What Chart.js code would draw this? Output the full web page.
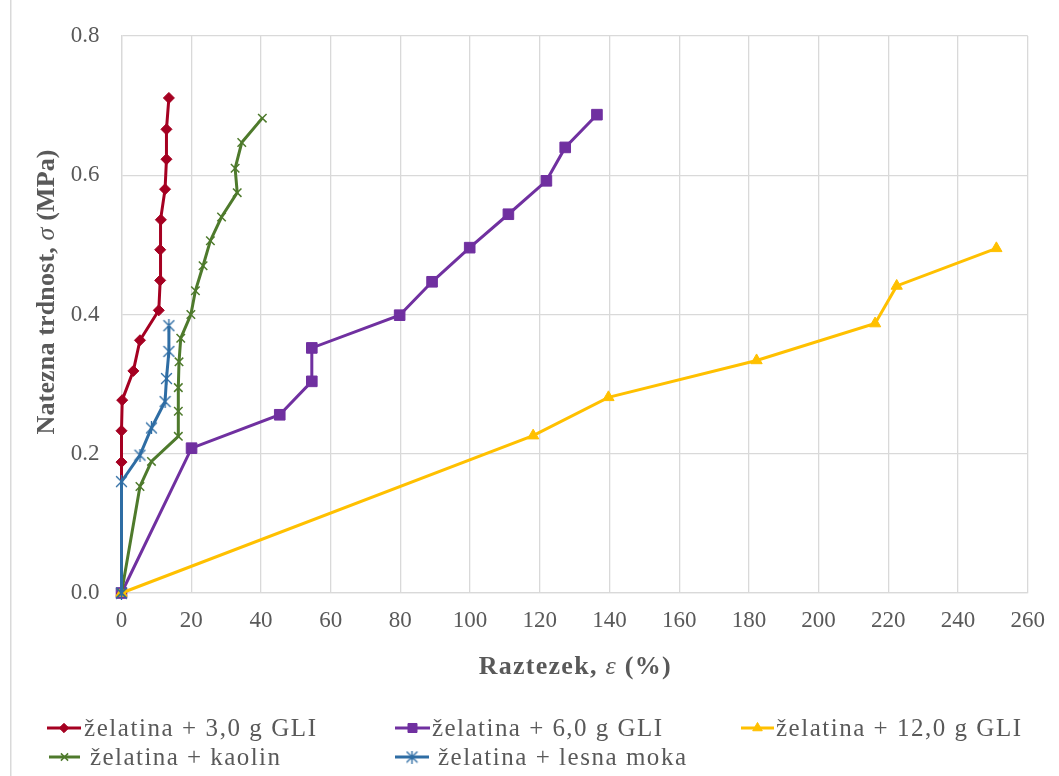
<!DOCTYPE html>
<html><head><meta charset="utf-8">
<script src="https://cdn.jsdelivr.net/npm/chart.js@4.4.1/dist/chart.umd.min.js"></script>
<style>html,body{margin:0;padding:0;background:#fff;}#wrap{width:1059px;height:776px;position:relative;}</style>
</head><body><div id="wrap"><canvas id="c" width="1059" height="776"></canvas></div>
<script>
// ---- data ----
const seriesNames = ['želatina + 3,0 g GLI', 'želatina + 6,0 g GLI', 'želatina + 12,0 g GLI', 'želatina + kaolin', 'želatina + lesna moka'];
const redX = [0, 0, 0, 0.2, 3.4, 5.3, 10.7, 11.1, 11.1, 11.3, 12.5, 12.9, 12.9, 13.6];
const redY = [0, 0.188, 0.233, 0.277, 0.319, 0.363, 0.406, 0.449, 0.493, 0.536, 0.580, 0.623, 0.666, 0.711];
const purpleX = [0, 20.1, 45.4, 54.6, 54.6, 79.8, 89.1, 99.9, 111.0, 121.9, 127.3, 136.4];
const purpleY = [0, 0.208, 0.256, 0.304, 0.352, 0.399, 0.447, 0.496, 0.544, 0.592, 0.640, 0.687];
const yellowX = [0, 118.1, 139.7, 182.2, 216.2, 222.4, 251.0];
const yellowY = [0, 0.226, 0.281, 0.334, 0.387, 0.441, 0.495];
const greenX = [0, 5.3, 8.6, 16.3, 16.3, 16.3, 16.5, 17.0, 19.9, 21.2, 23.4, 25.5, 28.7, 33.2, 32.6, 34.5, 40.4];
const greenY = [0, 0.153, 0.189, 0.225, 0.261, 0.295, 0.332, 0.366, 0.400, 0.434, 0.470, 0.506, 0.540, 0.575, 0.610, 0.647, 0.682];
const blueX = [0, 0, 5.3, 8.6, 12.5, 12.9, 13.6, 13.6];
const blueY = [0, 0.160, 0.198, 0.237, 0.275, 0.308, 0.347, 0.384];
const xTickStep = 20, xMin = 0, xMax = 260;
const yTickStep = 0.2, yMin = 0, yMax = 0.8;
const xTitle = ['Raztezek, ', 'ε', ' (%)'];
const yTitle = ['Natezna trdnost, ', 'σ', ' (MPa)'];

const colors = ['#A50021', '#7030A0', '#FFC000', '#4E7A2C', '#2E6DA4'];
const FONT = "'Liberation Serif', 'Times New Roman', serif";
const TXT = '#595959';

function zip(xs, ys) { return xs.map((x, i) => ({x: x, y: ys[i]})); }

// asterisk marker (X plus vertical bar)
function makeStar(color, size) {
  const c = document.createElement('canvas');
  c.width = size; c.height = size;
  const g = c.getContext('2d');
  g.strokeStyle = color; g.lineWidth = 1.4; g.lineCap = 'round';
  const m = 1.5, s = size;
  g.beginPath();
  g.moveTo(m, m); g.lineTo(s - m, s - m);
  g.moveTo(s - m, m); g.lineTo(m, s - m);
  g.moveTo(s / 2, 0.5); g.lineTo(s / 2, s - 0.5);
  g.stroke();
  return c;
}
const starImg = makeStar(colors[4], 13);

const styles = [
  {pointStyle: 'rectRot', pointRadius: 5.5},
  {pointStyle: 'rect', pointRadius: 7.5},
  {pointStyle: 'triangle', pointRadius: 6.5},
  {pointStyle: 'crossRot', pointRadius: 6},
  {pointStyle: starImg, pointRadius: 6}
];
const seriesData = [zip(redX, redY), zip(purpleX, purpleY), zip(yellowX, yellowY), zip(greenX, greenY), zip(blueX, blueY)];

const datasets = seriesData.map((d, i) => ({
  label: seriesNames[i],
  data: d,
  showLine: true,
  clip: false,
  borderColor: colors[i],
  backgroundColor: colors[i],
  borderWidth: 3,
  pointBorderColor: colors[i],
  pointBackgroundColor: colors[i],
  pointBorderWidth: i === 3 ? 1.5 : 1,
  pointStyle: styles[i].pointStyle,
  pointRadius: styles[i].pointRadius,
  tension: 0,
  order: 5 - i
}));

function naturalWidth(ctx, segs) {
  let w = 0, n = 0;
  segs.forEach(s => { ctx.font = s.f; for (const ch of s.t) { w += ctx.measureText(ch).width; n++; } });
  return {w, n};
}
function drawSegs(ctx, segs, x, y, targetW) {
  const nat = naturalWidth(ctx, segs);
  const sp = targetW ? (targetW - nat.w) / (nat.n - 1) : 0;
  let cx = x;
  segs.forEach(s => {
    ctx.font = s.f;
    for (const ch of s.t) { ctx.fillText(ch, cx, y); cx += ctx.measureText(ch).width + sp; }
  });
  return cx;
}

const legendItems = [
  {i: 0, l1: 47, l2: 81, tx: 84, y: 728, w: 232},
  {i: 1, l1: 395, l2: 430, tx: 432, y: 728, w: 230},
  {i: 2, l1: 741, l2: 774, tx: 776, y: 728, w: 245},
  {i: 3, l1: 49, l2: 80, tx: 90, y: 757, w: 190},
  {i: 4, l1: 395, l2: 429, tx: 438, y: 757, w: 248}
];

const decor = {
  id: 'decor',
  beforeDraw(chart) {
    const ctx = chart.ctx;
    ctx.save();
    ctx.fillStyle = '#fff';
    ctx.fillRect(0, 0, chart.width, chart.height);
    ctx.fillStyle = '#d9d9d9';
    ctx.fillRect(10, 0, 1.5, chart.height);
    ctx.restore();
  },
  afterDraw(chart) {
    const ctx = chart.ctx;
    const ca = chart.chartArea;
    ctx.save();
    ctx.fillStyle = TXT;
    ctx.textBaseline = 'middle';
    ctx.textAlign = 'left';
    const bold = 'bold 26px ' + FONT, ital = 'italic 26px ' + FONT;
    const xs = [{t: xTitle[0], f: bold}, {t: xTitle[1], f: ital}, {t: xTitle[2], f: bold}];
    const xw = 192;
    drawSegs(ctx, xs, (ca.left + ca.right) / 2 - xw / 2, 667, xw);
    const ys = [{t: yTitle[0], f: bold}, {t: yTitle[1], f: ital}, {t: yTitle[2], f: bold}];
    const yw = 285;
    ctx.save();
    ctx.translate(47, 292);
    ctx.rotate(-Math.PI / 2);
    drawSegs(ctx, ys, -yw / 2, 0, yw);
    ctx.restore();
    legendItems.forEach(it => {
      const c = colors[it.i];
      ctx.strokeStyle = c; ctx.fillStyle = c; ctx.lineWidth = 3;
      ctx.beginPath(); ctx.moveTo(it.l1, it.y); ctx.lineTo(it.l2, it.y); ctx.stroke();
      ctx.lineWidth = it.i === 3 ? 1.5 : 1;
      Chart.helpers.drawPoint(ctx, {pointStyle: styles[it.i].pointStyle, radius: styles[it.i].pointRadius * 0.85, rotation: 0, borderWidth: ctx.lineWidth}, (it.l1 + it.l2) / 2, it.y);
      ctx.fillStyle = TXT;
      ctx.textBaseline = 'alphabetic';
      drawSegs(ctx, [{t: seriesNames[it.i], f: '25px ' + FONT}], it.tx, it.y + 8, it.w);
    });
    ctx.restore();
  }
};

new Chart(document.getElementById('c'), {
  type: 'scatter',
  data: {datasets: datasets},
  options: {
    responsive: false,
    animation: false,
    devicePixelRatio: 1,
    layout: {padding: {left: 0, right: 29, top: 36, bottom: 0}},
    plugins: {legend: {display: false}, tooltip: {enabled: false}},
    scales: {
      x: {
        type: 'linear', min: xMin, max: xMax,
        ticks: {stepSize: xTickStep, padding: 14, color: TXT, font: {family: FONT, size: 23}},
        grid: {color: '#d9d9d9', lineWidth: 1.3, drawTicks: false},
        border: {color: '#d9d9d9', width: 1.3},
        afterFit(s) { s.height = 183; }
      },
      y: {
        type: 'linear', min: yMin, max: yMax,
        ticks: {stepSize: yTickStep, padding: 22, color: TXT, font: {family: FONT, size: 23}, callback: v => v.toFixed(1)},
        grid: {color: '#d9d9d9', lineWidth: 1.3, drawTicks: false},
        border: {color: '#d9d9d9', width: 1.3},
        afterFit(s) { s.width = 121.5; }
      }
    }
  },
  plugins: [decor]
});
</script></body></html>
